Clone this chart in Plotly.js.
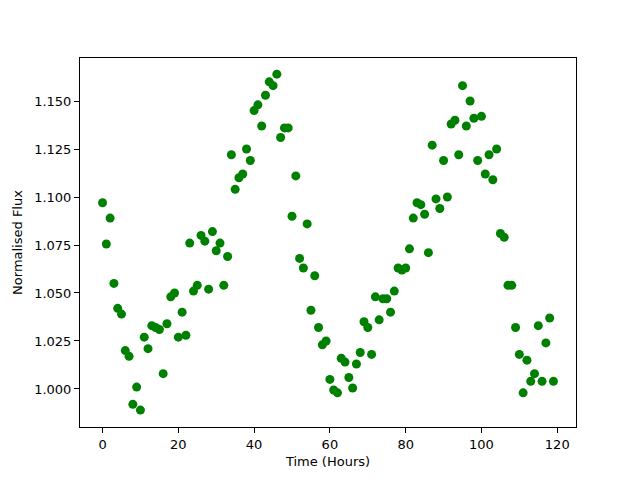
<!DOCTYPE html>
<html>
<head>
<meta charset="utf-8">
<script src="https://cdn.plot.ly/plotly-3.0.1.min.js"></script>
<style>html,body{margin:0;padding:0;background:#fff;}#chart{width:640px;height:480px;}</style>
</head>
<body>
<div id="chart"></div>
<script>
const timeHours = [];
for (let i = 0; i < 120; i++) timeHours.push(i);
const normalisedFlux = [
  1.097, 1.0755, 1.089, 1.055, 1.042, 1.039, 1.020, 1.017, 0.992, 1.001,
  0.989, 1.027, 1.021, 1.033, 1.032, 1.031, 1.008, 1.034, 1.048, 1.050,
  1.027, 1.040, 1.028, 1.076, 1.051, 1.054, 1.080, 1.077, 1.052, 1.082,
  1.072, 1.076, 1.054, 1.069, 1.122, 1.104, 1.110, 1.112, 1.125, 1.119,
  1.145, 1.148, 1.137, 1.153, 1.160, 1.158, 1.164, 1.131, 1.136, 1.136,
  1.090, 1.111, 1.068, 1.063, 1.086, 1.041, 1.059, 1.032, 1.023, 1.025,
  1.005, 0.9995, 0.998, 1.016, 1.014, 1.006, 1.0005, 1.013, 1.019, 1.035,
  1.032, 1.018, 1.048, 1.036, 1.047, 1.047, 1.040, 1.051, 1.063, 1.062,
  1.063, 1.073, 1.089, 1.097, 1.096, 1.091, 1.071, 1.127, 1.099, 1.094,
  1.119, 1.100, 1.138, 1.140, 1.122, 1.158, 1.137, 1.150, 1.141, 1.119,
  1.142, 1.112, 1.122, 1.109, 1.125, 1.081, 1.079, 1.054, 1.054, 1.032,
  1.018, 0.998, 1.015, 1.004, 1.008, 1.033, 1.004, 1.024, 1.037, 1.004
];
const xTicks = [0, 20, 40, 60, 80, 100, 120];
const yTicks = [1.000, 1.025, 1.050, 1.075, 1.100, 1.125, 1.150];

const font = {family: 'DejaVu Sans', size: 13, color: '#000'};
const axisCommon = {
  showgrid: false, zeroline: false, showline: true, linecolor: '#000', linewidth: 1,
  mirror: true, ticks: 'outside', ticklen: 5, tickwidth: 1, tickcolor: '#000',
  tickfont: font
};
Plotly.newPlot('chart', [{
  x: timeHours, y: normalisedFlux, type: 'scatter', mode: 'markers',
  marker: {color: '#008000', size: 9}
}], {
  width: 640, height: 480,
  margin: {l: 80, r: 64, t: 58, b: 53},
  paper_bgcolor: '#fff', plot_bgcolor: '#fff',
  showlegend: false,
  font: font,
  xaxis: Object.assign({}, axisCommon, {
    range: [-5.95, 124.95], tickvals: xTicks, ticktext: xTicks.map(String),
    title: {text: 'Time (Hours)', font: font, standoff: 6}
  }),
  yaxis: Object.assign({}, axisCommon, {
    range: [0.9802, 1.1724], tickvals: yTicks, ticktext: yTicks.map(v => v.toFixed(3)),
    title: {text: 'Normalised Flux', font: font, standoff: 8}
  })
}, {displayModeBar: false, staticPlot: true});
</script>
</body>
</html>
